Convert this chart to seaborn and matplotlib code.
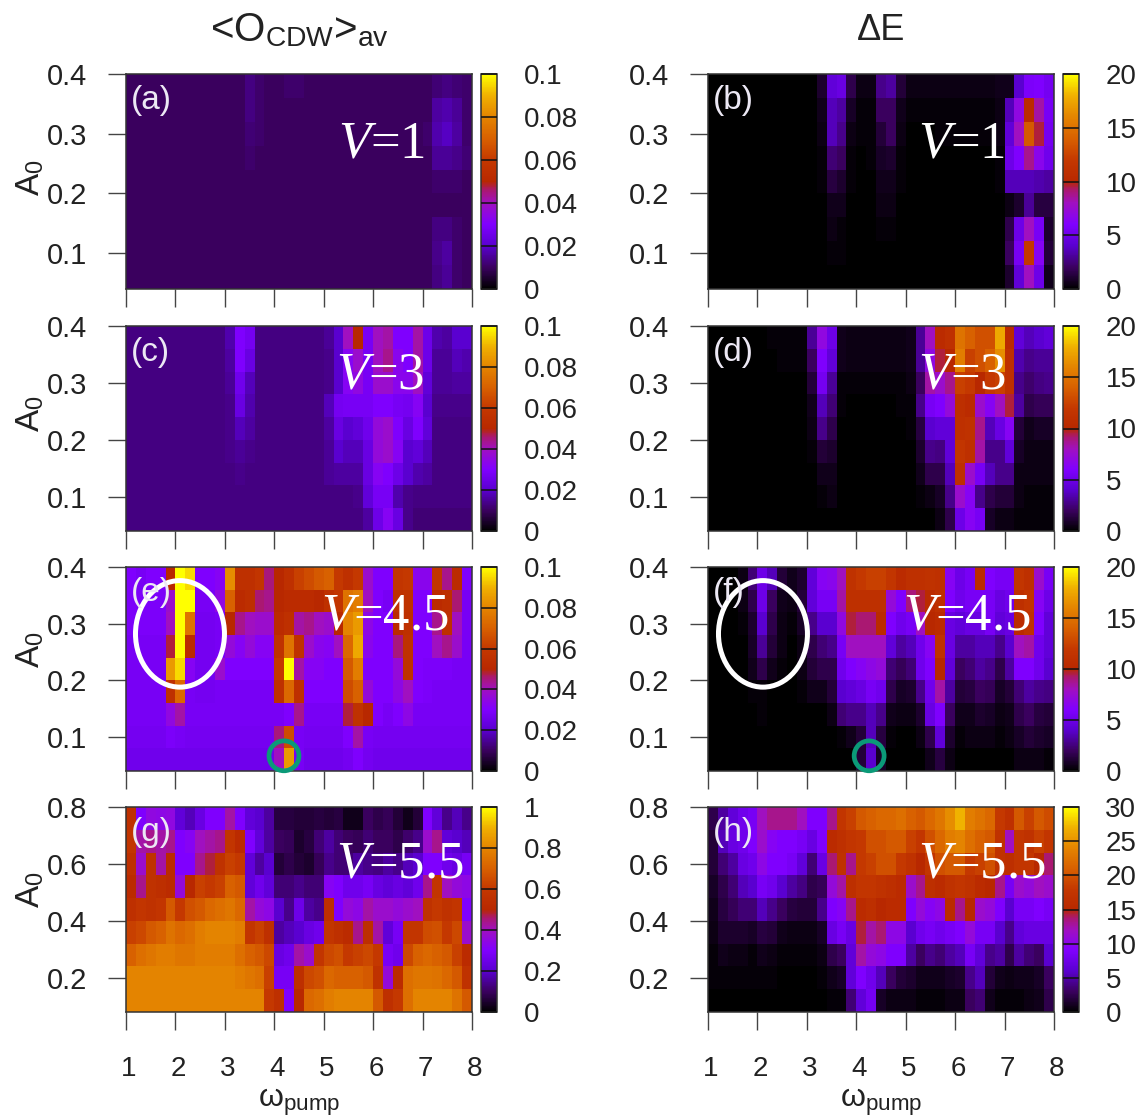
import numpy as np
import pandas as pd
import matplotlib
matplotlib.use("Agg")
import matplotlib.pyplot as plt
from matplotlib.colors import LinearSegmentedColormap
from matplotlib.patches import Ellipse
from matplotlib.transforms import ScaledTranslation
import seaborn as sns

# all rows are top (largest A0) to bottom, 35 columns of width 0.2 in omega
# values are percent of the colour scale of the panel
omega_edges = [1 + 0.2 * i for i in range(35)]

panel_a = [
    [10,10,10,10,10, 10,10,10,10,10, 10,10,13,11,10, 10,11,11,10,10, 10,10,10,10,10, 10,10,10,10,10, 10,12,13,12,11],
    [10,10,10,10,10, 10,10,10,10,10, 10,10,13,11,10, 10,10,10,10,10, 10,10,10,10,10, 10,10,10,10,10, 10,16,17,15,11],
    [10,10,10,10,10, 10,10,10,10,10, 10,10,12,11,10, 10,10,10,10,10, 10,10,10,10,10, 10,10,10,10,10, 11,17,19,16,11],
    [10,10,10,10,10, 10,10,10,10,10, 10,10,11,10,10, 10,10,10,10,10, 10,10,10,10,10, 10,10,10,10,10, 10,15,15,14,12],
    [10,10,10,10,10, 10,10,10,10,10, 10,10,10,10,10, 10,10,10,10,10, 10,10,10,10,10, 10,10,10,10,10, 10,11,11,11,10],
    [10,10,10,10,10, 10,10,10,10,10, 10,10,10,10,10, 10,10,10,10,10, 10,10,10,10,10, 10,10,10,10,10, 10,10,10,10,10],
    [10,10,10,10,10, 10,10,10,10,10, 10,10,10,10,10, 10,10,10,10,10, 10,10,10,10,10, 10,10,10,10,10, 10,13,13,11,10],
    [10,10,10,10,10, 10,10,10,10,10, 10,10,10,10,10, 10,10,10,10,10, 10,10,10,10,10, 10,10,10,10,10, 10,14,16,11,10],
    [10,10,10,10,10, 10,10,10,10,10, 10,10,10,10,10, 10,10,10,10,10, 10,10,10,10,10, 10,10,10,10,10, 10,13,15,11,10],
]

panel_b = [
    [0,0,0,0,0, 0,0,0,0,0, 0,5,22,24,8, 2,2,14,16,6, 2,2,2,2,2, 2,2,2,2,3, 3,20,29,30,27],
    [0,0,0,0,0, 0,0,0,0,0, 0,3,18,16,4, 1,1,10,10,3, 1,1,1,1,1, 1,1,1,1,2, 18,35,52,42,28],
    [0,0,0,0,0, 0,0,0,0,0, 0,2,18,14,2, 1,1,6,10,2, 0,0,0,1,1, 1,1,1,1,2, 22,40,68,48,27],
    [0,0,0,0,0, 0,0,0,0,0, 0,1,12,10,1, 0,1,4,5,1, 0,0,0,0,0, 0,0,0,0,1, 25,30,44,33,26],
    [0,0,0,0,0, 0,0,0,0,0, 0,1,7,5,1, 0,0,3,3,1, 0,0,0,0,0, 0,0,0,0,1, 18,18,18,17,16],
    [0,0,0,0,0, 0,0,0,0,0, 0,0,3,3,0, 0,0,2,2,0, 0,0,0,0,0, 0,0,0,0,0, 2,5,15,7,7],
    [0,0,0,0,0, 0,0,0,0,0, 0,0,2,1,0, 0,0,1,1,0, 0,0,0,0,0, 0,0,0,0,0, 8,25,40,28,5],
    [0,0,0,0,0, 0,0,0,0,0, 0,0,1,1,0, 0,0,0,0,0, 0,0,0,0,0, 0,0,0,0,0, 10,28,60,32,6],
    [0,0,0,0,0, 0,0,0,0,0, 0,0,0,0,0, 0,0,0,0,0, 0,0,0,0,0, 0,0,0,0,0, 5,22,40,25,3],
]

panel_c = [
    [13,13,13,13,13, 13,13,13,13,13, 17,30,27,13,13, 13,13,13,13,13, 15,20,40,50,28, 40,42,30,30,42, 25,17,16,20,20],
    [13,13,13,13,13, 13,13,13,13,13, 16,30,24,13,13, 13,13,13,13,13, 14,20,32,38,28, 40,44,33,30,42, 25,15,15,18,17],
    [13,13,13,13,13, 13,13,13,13,13, 15,26,18,13,13, 13,13,13,13,13, 14,20,32,35,28, 38,38,33,33,40, 22,15,15,16,16],
    [13,13,13,13,13, 13,13,13,13,13, 14,24,17,13,13, 13,13,13,13,13, 18,27,28,28,28, 30,30,28,27,32, 20,14,14,14,14],
    [13,13,13,13,13, 13,13,13,13,13, 14,18,16,13,13, 13,13,13,13,13, 16,24,20,22,26, 36,38,30,24,30, 22,13,13,13,13],
    [13,13,13,13,13, 13,13,13,13,13, 14,15,14,13,13, 13,13,13,13,13, 15,20,18,18,24, 36,38,32,20,22, 18,13,13,13,13],
    [13,13,13,13,13, 13,13,13,13,13, 13,14,13,13,13, 13,13,13,13,13, 15,16,16,16,24, 32,30,25,20,17, 16,13,13,13,13],
    [13,13,13,13,13, 13,13,13,13,13, 13,13,13,13,13, 13,13,13,13,13, 13,13,13,14,22, 28,28,17,14,13, 13,13,13,13,13],
    [13,13,13,13,13, 13,13,13,13,13, 13,13,13,13,13, 13,13,13,13,13, 13,13,13,13,16, 25,32,24,14,12, 12,12,12,12,12],
]

panel_d = [
    [0,0,0,0,0, 0,1,1,1,1, 15,35,25,3,2, 2,2,2,2,2, 3,15,40,52,55, 75,70,66,66,88, 52,22,18,20,22],
    [0,0,0,0,0, 0,0,1,1,1, 10,30,22,3,2, 2,2,2,2,2, 3,15,35,48,50, 78,62,66,70,82, 55,17,14,15,15],
    [0,0,0,0,0, 0,0,0,0,0, 6,27,15,1,1, 1,1,1,1,1, 2,10,42,38,44, 62,60,50,60,62, 55,14,11,13,14],
    [0,0,0,0,0, 0,0,0,0,0, 3,18,12,1,0, 0,0,0,0,1, 1,14,28,30,36, 54,52,38,32,40, 48,16,8,9,9],
    [0,0,0,0,0, 0,0,0,0,0, 2,14,8,0,0, 0,0,0,0,0, 1,7,20,22,22, 55,56,44,18,24, 32,6,3,4,4],
    [0,0,0,0,0, 0,0,0,0,0, 1,6,5,0,0, 0,0,0,0,0, 0,5,14,13,22, 58,55,42,14,14, 22,4,2,2,2],
    [0,0,0,0,0, 0,0,0,0,0, 0,3,3,0,0, 0,0,0,0,0, 0,3,8,8,18, 55,38,28,18,14, 14,2,2,2,2],
    [0,0,0,0,0, 0,0,0,0,0, 0,1,2,0,0, 0,0,0,0,0, 0,1,2,4,14, 38,32,14,8,6, 6,2,1,1,1],
    [0,0,0,0,0, 0,0,0,0,0, 0,0,0,0,0, 0,0,0,0,0, 0,0,0,2,8, 25,32,28,4,2, 2,1,1,1,1],
]

panel_e = [
    [30,28,30,30,50, 100,95,30,30,32, 82,55,55,58,45, 50,55,62,65,68, 70,60,55,60,38, 30,30,58,60,33, 33,58,44,52,30],
    [29,29,29,29,38, 100,100,28,28,35, 70,52,54,46,44, 50,52,52,52,50, 55,58,75,78,40, 30,28,55,56,30, 30,52,54,46,28],
    [29,29,29,29,40, 100,75,27,27,28, 50,44,40,38,38, 52,55,42,44,40, 38,50,80,85,34, 30,30,52,55,30, 30,44,55,40,28],
    [28,28,28,28,48, 100,52,27,27,28, 36,32,36,32,32, 56,75,56,38,33, 32,40,72,88,33, 30,30,45,56,30, 30,40,44,38,28],
    [28,28,28,28,85, 95,32,27,27,38, 30,30,30,30,30, 60,100,42,32,32, 30,30,68,78,30, 30,30,36,56,30, 29,29,29,28,28],
    [28,28,28,28,55, 72,28,27,27,28, 28,28,28,28,28, 55,72,55,30,30, 30,30,65,70,36, 30,30,34,40,30, 29,28,28,28,28],
    [28,28,28,28,35, 42,28,28,28,28, 28,28,28,28,28, 28,30,44,28,28, 28,28,48,56,50, 30,28,30,34,28, 28,28,28,28,28],
    [27,27,27,27,29, 28,27,27,27,27, 27,27,27,27,27, 45,65,28,27,27, 27,27,30,42,28, 27,27,27,27,27, 27,27,27,27,27],
    [26,26,26,26,26, 26,26,26,26,26, 26,26,26,26,26, 40,85,28,26,26, 26,26,27,30,27, 26,26,26,26,26, 26,26,26,26,26],
]

panel_f = [
    [0,0,0,2,12, 25,18,6,3,5, 22,32,33,40,56, 60,62,62,58,52, 55,55,56,55,32, 25,28,52,30,28, 28,58,55,38,28],
    [0,0,0,2,8, 25,10,3,2,6, 22,28,28,42,55, 55,55,55,36,30, 45,48,52,55,30, 26,28,28,28,24, 26,55,58,32,25],
    [0,0,0,1,5, 20,8,2,1,4, 14,20,20,35,48, 46,46,52,30,26, 28,40,50,52,24, 22,24,24,28,22, 24,52,56,30,22],
    [0,0,0,0,4, 15,6,2,0,2, 8,12,14,28,40, 40,40,40,22,16, 18,26,32,56,24, 16,16,18,18,14, 20,40,42,26,22],
    [0,0,0,0,3, 8,3,1,0,2, 6,8,8,26,30, 32,34,36,12,9, 12,26,30,50,22, 10,12,16,14,8, 16,30,30,26,20],
    [0,0,0,0,1, 1,0,0,0,1, 3,3,6,20,22, 24,28,26,8,4, 5,14,26,42,16, 6,7,10,9,4, 6,12,16,14,13],
    [0,0,0,0,0, 1,0,0,0,0, 0,0,2,12,14, 14,18,14,3,2, 2,5,24,30,10, 3,3,5,4,2, 3,8,10,7,6],
    [0,0,0,0,0, 0,0,0,0,0, 0,0,0,1,3, 6,18,7,1,0, 0,2,8,22,5, 1,2,2,2,1, 2,4,6,5,4],
    [0,0,0,0,0, 0,0,0,0,0, 0,0,0,0,0, 6,20,4,0,0, 0,0,3,7,2, 0,0,0,0,0, 0,2,2,2,1],
]

panel_g = [
    [55,30,35,34,35, 22,18,24,30,30, 42,30,22,20,16, 7,7,6,6,7, 6,7,3,3,10, 8,9,6,3,6, 30,22,14,18,14],
    [58,42,44,42,44, 30,32,40,42,44, 58,52,30,22,16, 10,9,5,7,12, 16,12,10,9,12, 10,10,8,11,14, 38,44,22,20,18],
    [55,38,56,42,52, 30,30,44,48,56, 62,60,22,16,20, 6,8,6,5,9, 14,12,12,16,14, 13,16,14,18,20, 30,30,26,24,28],
    [52,44,56,54,52, 36,50,62,60,62, 70,68,22,26,22, 12,12,14,12,12, 32,30,26,26,28, 24,22,24,22,26, 44,58,40,36,34],
    [55,58,56,58,68, 60,66,68,72,74, 76,72,42,36,34, 20,14,25,16,14, 54,30,36,34,42, 38,38,36,38,40, 56,60,56,58,30],
    [62,64,68,70,75, 72,74,78,80,80, 80,78,58,62,55, 16,18,20,24,26, 58,55,52,44,54, 42,22,28,58,58, 65,66,60,64,38],
    [70,74,76,78,78, 76,76,78,78,78, 78,74,70,68,64, 24,26,42,38,58, 64,66,60,62,64, 60,28,26,64,70, 72,70,68,62,52],
    [80,80,80,80,80, 80,80,80,80,80, 80,78,76,74,62, 28,28,54,64,66, 72,70,70,70,68, 56,36,52,74,76, 76,75,72,68,56],
    [80,80,80,80,80, 80,80,80,80,80, 80,80,80,80,60, 55,30,50,72,74, 78,80,80,80,80, 68,55,60,74,80, 80,80,80,75,68],
]

panel_h = [
    [8,16,22,26,28, 40,44,44,44,40, 30,30,44,58,62, 68,70,72,72,74, 70,68,72,76,82, 90,78,75,72,60, 55,68,62,68,65],
    [6,18,24,26,30, 38,32,30,30,28, 24,30,52,55,58, 60,66,66,68,68, 62,58,66,72,78, 80,74,70,68,56, 40,58,56,62,58],
    [6,12,16,24,26, 34,30,30,28,22, 12,24,46,56,44, 60,62,66,66,60, 56,50,58,66,68, 68,60,62,66,56, 54,58,58,50,46],
    [4,8,12,18,20, 28,26,20,16,13, 8,9,36,42,54, 58,58,56,54,52, 38,44,54,52,56, 58,56,52,50,44, 28,38,36,40,38],
    [3,7,9,12,12, 18,14,10,7,6, 6,14,30,32,44, 52,54,50,52,52, 30,36,32,34,52, 44,50,38,36,30, 20,28,28,30,28],
    [2,5,5,5,4, 7,6,3,2,2, 2,4,24,28,24, 48,42,46,34,34, 20,26,28,26,28, 30,36,28,28,20, 14,22,24,24,24],
    [1,3,2,2,1, 3,2,1,1,1, 1,2,8,10,22, 42,36,34,30,30, 16,10,14,12,16, 18,28,22,14,16, 8,16,12,10,20],
    [1,1,1,1,1, 1,1,0,0,0, 0,1,3,4,22, 30,26,18,10,6, 5,3,3,3,4, 5,14,18,6,3, 2,3,3,4,10],
    [0,0,0,0,0, 0,0,0,0,0, 0,0,1,1,12, 22,27,4,2,2, 2,1,1,1,2, 2,10,12,3,1, 1,1,2,3,8],
]

# colour scale maxima
o_max = 0.1
o_max_big = 1.0
e_max = 20
e_max_big = 30

o_ticks = [0, 0.02, 0.04, 0.06, 0.08, 0.1]
o_ticks_big = [0, 0.2, 0.4, 0.6, 0.8, 1]
e_ticks = [0, 5, 10, 15, 20]
e_ticks_big = [0, 5, 10, 15, 20, 25, 30]

x_ticks = [1, 2, 3, 4, 5, 6, 7, 8]
a_ticks = [0.1, 0.2, 0.3, 0.4]
a_ticks_big = [0.2, 0.4, 0.6, 0.8]

W, H = 1142, 1118

sns.set_theme(style="white")
plt.rcParams["font.family"] = ["Liberation Sans", "DejaVu Sans"]
plt.rcParams["mathtext.fontset"] = "custom"
plt.rcParams["mathtext.rm"] = "Liberation Sans"
plt.rcParams["mathtext.it"] = "Liberation Serif:italic"
plt.rcParams["text.color"] = "#222222"

# black - violet - red - orange - yellow palette
cmap = LinearSegmentedColormap.from_list("pump", [
    (0.00, "#000000"), (0.10, "#3b0060"), (0.20, "#5a00d0"), (0.30, "#8000ff"),
    (0.40, "#a010c0"), (0.46, "#aa1870"), (0.50, "#b82800"), (0.60, "#c43800"),
    (0.70, "#d86000"), (0.80, "#e48400"), (0.90, "#f0b000"), (1.00, "#ffff00"),
])


def box(x0, y0, x1, y1):
    # pixel box of the reference -> figure fractions
    return [x0 / W, 1 - y1 / H, (x1 - x0) / W, (y1 - y0) / H]


def put(x, y, s, **kw):
    fig.text(x / W, 1 - y / H, s, **kw)


fig = plt.figure(figsize=(W / 100, H / 100), dpi=100)

# rows: y top, y bottom, lowest A0, row height in A0
rows = [
    (74, 289, 0.04, 0.04, a_ticks),
    (326, 531, 0.04, 0.04, a_ticks),
    (567, 771, 0.04, 0.04, a_ticks),
    (807, 1012, 0.08, 0.08, a_ticks_big),
]
panels = [
    (panel_a, 0, 0, o_max, o_ticks, "(a)", "1", 338),
    (panel_b, 0, 1, e_max, e_ticks, "(b)", "1", 918),
    (panel_c, 1, 0, o_max, o_ticks, "(c)", "3", 336),
    (panel_d, 1, 1, e_max, e_ticks, "(d)", "3", 918),
    (panel_e, 2, 0, o_max, o_ticks, "(e)", "4.5", 321),
    (panel_f, 2, 1, e_max, e_ticks, "(f)", "4.5", 903),
    (panel_g, 3, 0, o_max_big, o_ticks_big, "(g)", "5.5", 336),
    (panel_h, 3, 1, e_max_big, e_ticks_big, "(h)", "5.5", 918),
]
baselines = [158, 388, 630, 878]
axes = {}

for data, r, c, vmax, cticks, tag, v, vx in panels:
    y0, y1, a_low, a_step, yticks = rows[r]
    x0 = 126 if c == 0 else 708
    ax = fig.add_axes(box(x0, y0, x0 + 346, y1))
    cax = fig.add_axes(box(x0 + 355, y0, x0 + 371, y1))
    a_vals = [round(a_low + a_step * (8 - i), 2) for i in range(9)]
    df = pd.DataFrame(np.array(data) / 100 * vmax, index=a_vals, columns=omega_edges)
    sns.heatmap(df, ax=ax, cbar_ax=cax, cmap=cmap, vmin=0, vmax=vmax,
                xticklabels=False, yticklabels=False,
                cbar_kws={"ticks": cticks})

    # heatmap axes run in cell units, ticks are placed from omega and A0
    ax.set_xticks([(t - 1) / 0.2 for t in x_ticks])
    ax.set_yticks([(a_vals[0] + a_step - t) / a_step for t in yticks])
    ax.set_xticklabels([str(t) for t in x_ticks] if r == 3 else [])
    ax.set_yticklabels([str(t) for t in yticks])
    ax.set_xlabel("")
    ax.set_ylabel("")
    ax.tick_params(axis="x", bottom=True, direction="out", length=13, width=1, color="#444444",
                   labelsize=20, pad=19, labelcolor="#222222")
    ax.tick_params(axis="y", left=True, direction="out", length=13, width=1, color="#444444",
                   labelsize=21, pad=15, labelcolor="#222222")
    for lbl in ax.get_xticklabels():
        lbl.set_transform(lbl.get_transform() + ScaledTranslation(3 / 100, 0, fig.dpi_scale_trans))
    for s in ax.spines.values():
        s.set_visible(True)
        s.set_color("#333333")
        s.set_linewidth(1.1)

    # seaborn's white style puts ticks below the bar, they have to cross it
    cax.set_axisbelow(False)
    cax.tick_params(axis="y", right=True, direction="in", length=11.5, width=1.1, color="#111111",
                    labelsize=20, pad=19, labelcolor="#222222")
    cax.set_yticklabels([f"{t:g}" for t in cticks])
    cbar = ax.collections[0].colorbar
    cbar.outline.set_edgecolor("#333333")
    cbar.outline.set_linewidth(1.1)

    put(x0 + 5, y0 + 26, tag, color="#ece8f4", fontsize=24, ha="left", va="center")
    put(vx, baselines[r], r"$\mathit{V}$=" + v, color="white", fontsize=38, ha="left", va="baseline",
        family="Liberation Serif")
    axes[(r, c)] = ax

# ellipses and circles marked on panels (e) and (f)
for c, ex, gx in [(0, 5.46, 15.98), (1, 5.56, 16.3)]:
    ax = axes[(2, c)]
    ax.add_patch(Ellipse((ex, 2.95), 9.0, 4.7, fill=False, ec="white", lw=3.6, zorder=5, clip_on=False))
    ax.add_patch(Ellipse((gx, 8.33), 3.03, 1.32, fill=False, ec="#0b9a78", lw=3.4, zorder=5, clip_on=False))

put(299, 30, r"<O$_{\mathrm{CDW}}$>$_{\mathrm{av}}$", fontsize=29, ha="center", va="center")
put(881, 30, "ΔE", fontsize=26, ha="center", va="center")
for xc in (299, 881):
    put(xc, 1102, r"ω$_{\mathrm{pump}}$", fontsize=23, ha="center", va="center")
for yc in (178, 414, 650, 890):
    put(30, yc, r"A$_{\mathrm{0}}$", fontsize=24, ha="center", va="center", rotation=90)

fig.savefig("out.png", dpi=100)
